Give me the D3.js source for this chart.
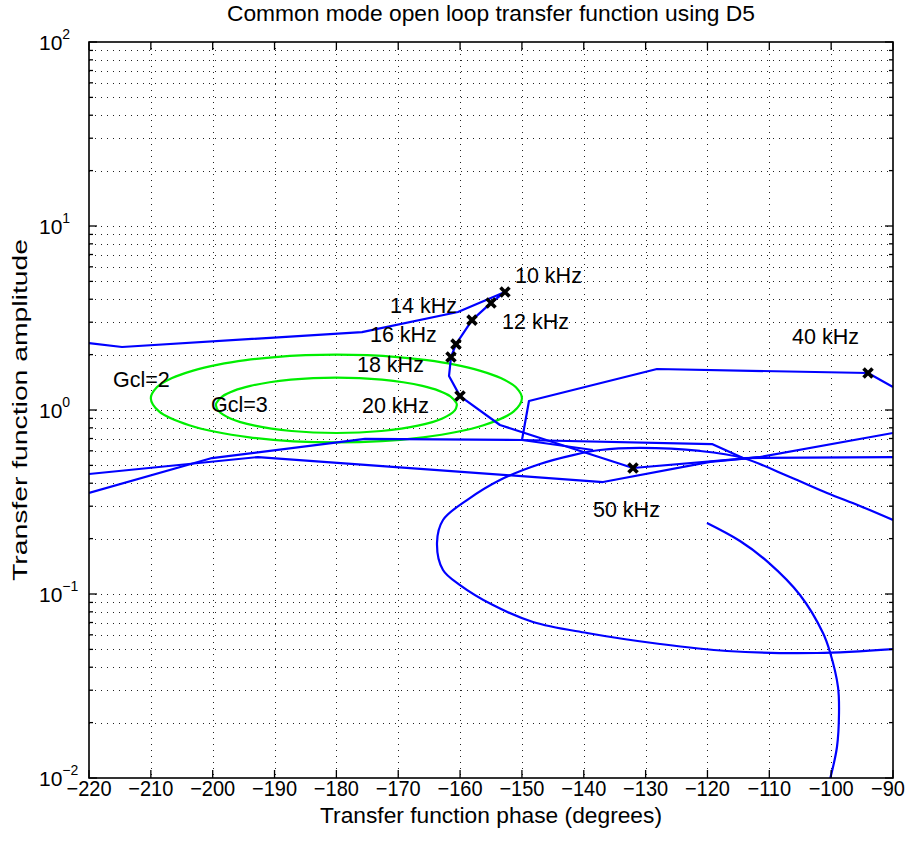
<!DOCTYPE html>
<html><head><meta charset="utf-8">
<script src="https://cdn.jsdelivr.net/npm/d3@7"></script>
<style>
body{margin:0;background:#fff}
text{font-family:"Liberation Sans",Arial,Helvetica,sans-serif;fill:#000}
</style>
</head><body>
<svg id="chart" width="909" height="845"></svg>
<script>
// ---------------- data ----------------
const titleText = "Common mode open loop transfer function using D5";
const xLabelText = "Transfer function phase (degrees)";
const yLabelText = "Transfer function amplitude";
const xTicks = [-220,-210,-200,-190,-180,-170,-160,-150,-140,-130,-120,-110,-100,-90];
const yTickExps = [-2,-1,0,1,2];

// open-loop Nichols traces [phase (deg), amplitude]
const traceMain = [[-220,2.31],[-214.66,2.20],[-175.86,2.65],[-160.34,3.41],[-152.74,4.38],[-155.0,3.82],[-158.07,3.08],[-160.66,2.28],[-161.47,1.94],[-161.79,1.53],[-160.01,1.19],[-153.55,0.829],[-132.04,0.484],[-111.51,0.555],[-90,0.750]];
const traceB = [[-220,0.449],[-192.67,0.555],[-136.89,0.406],[-119.59,0.522],[-111.51,0.555]];
const traceC = [[-220,0.354],[-200.11,0.548],[-175.37,0.696],[-149.99,0.687],[-119.27,0.653],[-114.25,0.548],[-90,0.555]];
const traceD = [[-149.99,0.687],[-148.86,1.119],[-128.16,1.670],[-94.04,1.589],[-90,1.334]];
const traceE = [[-149.99,0.687],[-138.51,0.606]];
const traceLoop = [[-90,0.2525],[-95.34,0.301],[-100.67,0.354],[-106.66,0.4325],[-114.25,0.548],[-121.21,0.599],[-130.91,0.622],[-137.38,0.606],[-141.74,0.569],[-147.08,0.509],[-153.55,0.4165],[-158.88,0.324],[-162.76,0.2525],[-163.73,0.1893],[-162.76,0.135],[-160.01,0.1119],[-154.68,0.0871],[-148.21,0.0705],[-139.48,0.0614],[-127.68,0.0535],[-116.84,0.049],[-102.29,0.0478],[-90,0.0502]];
const traceTail = [[-120.08,0.243],[-114.74,0.194],[-110.21,0.149],[-105.04,0.0988],[-101.32,0.0614],[-100.19,0.0484],[-98.89,0.0312],[-98.73,0.02256],[-99.06,0.01474],[-100.3,0.0095]];
const blueTraces = [traceMain, traceB, traceC, traceD, traceE, traceLoop, traceTail];

// closed-loop gain contours
const gcl2 = [[-180,0.6667],[-194.05,0.7106],[-203.79,0.8262],[-208.68,0.9824],[-210,1.1547],[-209.03,1.3275],[-206.57,1.4907],[-203.16,1.6378],[-199.11,1.7638],[-194.64,1.8653],[-189.90,1.9396],[-184.99,1.9848],[-180,2],[-175.01,1.9848],[-170.10,1.9396],[-165.36,1.8653],[-160.89,1.7638],[-156.84,1.6378],[-153.43,1.4907],[-150.97,1.3275],[-150,1.1547],[-151.32,0.9824],[-156.21,0.8262],[-165.95,0.7106]];
const gcl3 = [[-180,0.75],[-187.25,0.769],[-193.19,0.8219],[-197.14,0.8998],[-199.11,0.9922],[-199.47,1.0607],[-199.41,1.0899],[-198.43,1.1859],[-196.51,1.2746],[-193.90,1.3521],[-190.80,1.4153],[-187.37,1.4619],[-183.74,1.4904],[-180,1.5],[-176.26,1.4904],[-172.63,1.4619],[-169.20,1.4153],[-166.10,1.3521],[-163.49,1.2746],[-161.57,1.1859],[-160.59,1.0899],[-160.53,1.0607],[-160.89,0.9922],[-162.86,0.8998],[-166.81,0.8219],[-172.75,0.769]];
const contours = [gcl2, gcl3];

// frequency markers
const markerPhase = [-152.74,-155.0,-158.07,-160.66,-161.47,-160.01,-94.04,-132.04];
const markerAmp   = [4.38,3.82,3.08,2.28,1.94,1.19,1.589,0.484];

// annotations
const annText  = ["10 kHz","14 kHz","12 kHz","16 kHz","18 kHz","20 kHz","40 kHz","50 kHz","Gcl=2","Gcl=3"];
const annPhase = [-151.12,-171.33,-153.22,-174.57,-176.67,-175.86,-106.33,-138.51,-216.12,-200.27];
const annAmp   = [5.38,3.70,3.03,2.57,1.77,1.058,2.51,0.288,1.465,1.078];

// ---------------- drawing ----------------
const W = 909, H = 845;
const m = {left: 89, right: 16, top: 42, bottom: 67};
const svg = d3.select("#chart");
const x = d3.scaleLinear().domain([-220,-90]).range([m.left, W - m.right]);
const y = d3.scaleLog().domain([1e-2, 1e2]).range([H - m.bottom, m.top]);
const x0 = x.range()[0], x1 = x.range()[1], y0 = y.range()[0], y1 = y.range()[1];

svg.append("rect").attr("width", W).attr("height", H).attr("fill", "#fff");
svg.append("defs").append("clipPath").attr("id","clip")
  .append("rect").attr("x", x0).attr("y", y1).attr("width", x1 - x0).attr("height", y0 - y1);

// minor log values
const yGrid = [];
yTickExps.forEach(e => { if (e < 2) for (let k = 1; k <= 9; k++) yGrid.push(k * Math.pow(10, e)); });
yGrid.push(100);

const grid = svg.append("g").attr("stroke", "#222").attr("stroke-width", 1).attr("stroke-dasharray", "1,5").attr("fill","none");
xTicks.filter(v => v > -220 && v < -90).forEach(v => {
  grid.append("line").attr("x1", Math.round(x(v)) + 0.5).attr("x2", Math.round(x(v)) + 0.5).attr("y1", y1).attr("y2", y0);
});
yGrid.filter(v => v > 0.01 && v < 100).forEach(v => {
  grid.append("line").attr("y1", Math.round(y(v)) + 0.5).attr("y2", Math.round(y(v)) + 0.5).attr("x1", x0).attr("x2", x1);
});

const plot = svg.append("g").attr("clip-path", "url(#clip)");
const closedLine = d3.line().x(d => x(d[0])).y(d => y(d[1])).curve(d3.curveCatmullRomClosed);
plot.selectAll("path.gcl").data(contours).join("path").attr("class","gcl")
  .attr("d", closedLine).attr("fill","none").attr("stroke","#00ee00").attr("stroke-width",2.2);

const openLine = d3.line().x(d => x(d[0])).y(d => y(d[1]));
const smoothLine = d3.line().x(d => x(d[0])).y(d => y(d[1])).curve(d3.curveCatmullRom);
plot.selectAll("path.tr").data(blueTraces).join("path").attr("class","tr")
  .attr("d", d => (d === traceLoop || d === traceTail) ? smoothLine(d) : openLine(d))
  .attr("fill","none").attr("stroke","#0000ff").attr("stroke-width",2.2).attr("stroke-linejoin","round");

// markers
plot.selectAll("path.mk").data(markerPhase).join("path").attr("class","mk")
  .attr("transform", (d, i) => `translate(${x(d)},${y(markerAmp[i])})`)
  .attr("d", "M-4.5,-4.5L4.5,4.5M-4.5,4.5L4.5,-4.5").attr("stroke","#000").attr("stroke-width",3.6).attr("fill","none");

// annotations
svg.selectAll("text.ann").data(annText).join("text").attr("class","ann")
  .attr("x", (d, i) => x(annPhase[i])).attr("y", (d, i) => y(annAmp[i])).attr("dy","0.36em")
  .attr("font-size", 21.5).text(d => d);

// axes box and ticks
const ax = svg.append("g").attr("stroke","#000").attr("fill","none");
ax.append("rect").attr("x", x0).attr("y", y1).attr("width", x1 - x0).attr("height", y0 - y1).attr("stroke-width", 1.6);
xTicks.forEach(v => {
  const px = x(v);
  ax.append("line").attr("x1",px).attr("x2",px).attr("y1",y0).attr("y2",y0-8).attr("stroke-width",1.3);
  ax.append("line").attr("x1",px).attr("x2",px).attr("y1",y1).attr("y2",y1+8).attr("stroke-width",1.3);
});
yGrid.forEach(v => {
  const py = y(v);
  const major = Math.abs(Math.log10(v) - Math.round(Math.log10(v))) < 1e-9;
  const len = major ? 8 : 4;
  ax.append("line").attr("x1",x0).attr("x2",x0+len).attr("y1",py).attr("y2",py).attr("stroke-width",1.3);
  ax.append("line").attr("x1",x1).attr("x2",x1-len).attr("y1",py).attr("y2",py).attr("stroke-width",1.3);
});

// x tick labels (slightly condensed like the reference; last one kept inside the page)
svg.selectAll("text.xt").data(xTicks).join("text").attr("class","xt")
  .attr("y", y0 + 18).attr("text-anchor","middle").attr("font-size",21.5)
  .text(d => d < 0 ? "\u2212" + Math.abs(d) : d)
  .each(function(d) {
    const L = this.getComputedTextLength() * 0.93;
    const cx = Math.min(x(d), W - 4 - L / 2);
    d3.select(this).attr("x", cx).attr("textLength", L).attr("lengthAdjust","spacingAndGlyphs");
  });

// y tick labels with superscripts
yTickExps.forEach(e => {
  const t = svg.append("text").attr("x", 39).attr("y", y(Math.pow(10, e))).attr("dy","0.36em").attr("font-size",21);
  t.append("tspan").text("10");
  t.append("tspan").attr("font-size",14).attr("dy","-0.75em").text(e < 0 ? "\u2212" + Math.abs(e) : String(e));
});

// title and axis labels
svg.append("text").attr("x", (x0 + x1) / 2).attr("y", 21).attr("text-anchor","middle").attr("font-size",21.5)
  .attr("textLength", 528).attr("lengthAdjust","spacingAndGlyphs").text(titleText);
svg.append("text").attr("x", (x0 + x1) / 2).attr("y", y0 + 45).attr("text-anchor","middle").attr("font-size",22)
  .attr("textLength", 342).attr("lengthAdjust","spacingAndGlyphs").text(xLabelText);
svg.append("text").attr("transform", `translate(27,${(y0 + y1) / 2}) rotate(-90)`).attr("text-anchor","middle").attr("font-size",20.5)
  .attr("textLength", 342).attr("lengthAdjust","spacingAndGlyphs").text(yLabelText);
</script>
</body></html>
